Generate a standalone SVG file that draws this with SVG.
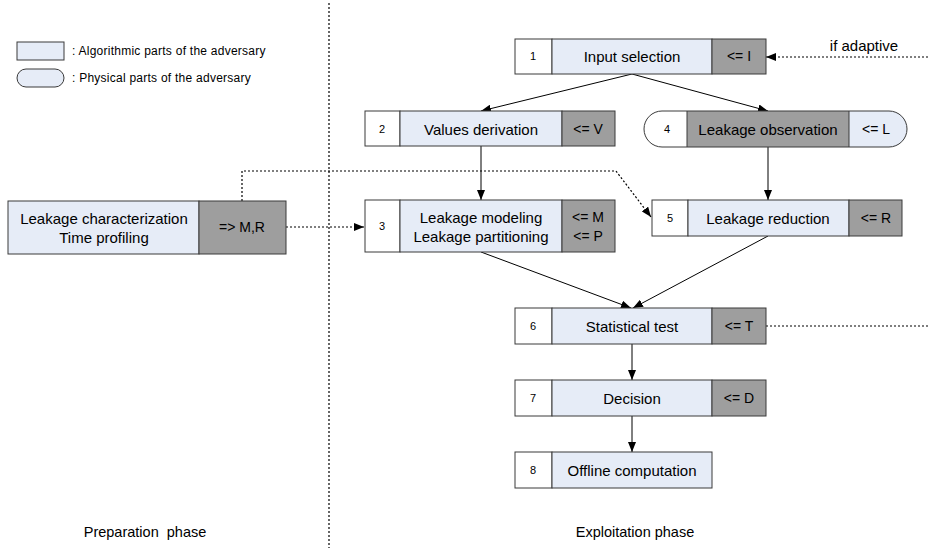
<svg xmlns="http://www.w3.org/2000/svg" width="930" height="548" viewBox="0 0 930 548">
<style>
text{font-family:"Liberation Sans",Arial,sans-serif;fill:#000;text-anchor:middle;dominant-baseline:central}
.b{stroke:#3a3a3a;stroke-width:1}
.w{fill:#ffffff}
.l{fill:#e6ecf7}
.d{fill:#9e9e9e}
.t{font-size:15px}
.n{font-size:11px}
.s{font-size:14px}
.g{font-size:12px;text-anchor:start;letter-spacing:0.25px}
.p{font-size:14.5px;white-space:pre}
.c{fill:none;stroke:#000;stroke-width:1}
.dot{fill:none;stroke:#000;stroke-width:1.2;stroke-dasharray:2,2}
</style>
<defs>
<marker id="ah" markerWidth="10" markerHeight="8" refX="10" refY="4" orient="auto" markerUnits="userSpaceOnUse">
<path d="M0,0 L10,4 L0,8 z" fill="#000"/>
</marker>
<clipPath id="stad"><rect x="644" y="111" width="263" height="36" rx="18" ry="18"/></clipPath>
</defs>

<g id="legend">
<rect class="l b" x="17" y="42" width="47" height="18"/>
<text class="g" x="72" y="51">: Algorithmic parts of the adversary</text>
<rect class="l b" x="17" y="69" width="47" height="18" rx="9" ry="9"/>
<text class="g" x="72" y="78">: Physical parts of the adversary</text>
</g>

<g id="connectors">
<path class="dot" d="M329,3 L329,548"/>
<path class="c" d="M632,74 L481,111" marker-end="url(#ah)"/>
<path class="c" d="M632,74 L768,111" marker-end="url(#ah)"/>
<path class="c" d="M481,146 L481,200" marker-end="url(#ah)"/>
<path class="c" d="M768,147 L768,200" marker-end="url(#ah)"/>
<path class="c" d="M481,252 L631,308" marker-end="url(#ah)"/>
<path class="c" d="M768,236 L633,308" marker-end="url(#ah)"/>
<path class="c" d="M632,344 L632,380" marker-end="url(#ah)"/>
<path class="c" d="M632,416 L632,452" marker-end="url(#ah)"/>
<path class="dot" d="M928,57 L766,57" marker-end="url(#ah)"/>
<path class="dot" d="M286,227 L364,227" marker-end="url(#ah)"/>
<path class="dot" d="M242,201 L242,171 L616,171 L651,217" marker-end="url(#ah)"/>
<path class="dot" d="M766,326 L928,326"/>
</g>

<g id="node-prep">
<rect class="l b" x="8" y="201" width="191" height="53"/>
<rect class="d b" x="199" y="201" width="87" height="53"/>
<text class="t" x="104" y="218">Leakage characterization</text>
<text class="t" x="104" y="237">Time profiling</text>
<text class="s" x="242" y="227">=&gt; M,R</text>
</g>

<g id="node1">
<rect class="w b" x="515" y="39" width="37" height="35"/>
<rect class="l b" x="552" y="39" width="160" height="35"/>
<rect class="d b" x="712" y="39" width="54" height="35"/>
<text class="n" x="533" y="56">1</text>
<text class="t" x="632" y="56">Input selection</text>
<text class="s" x="739" y="56">&lt;= I</text>
</g>
<text id="adaptive" class="t" x="864" y="45">if adaptive</text>

<g id="node2">
<rect class="w b" x="365" y="111" width="35" height="35"/>
<rect class="l b" x="400" y="111" width="162" height="35"/>
<rect class="d b" x="562" y="111" width="53" height="35"/>
<text class="n" x="382" y="129">2</text>
<text class="t" x="481" y="129">Values derivation</text>
<text class="s" x="588" y="129">&lt;= V</text>
</g>

<g id="node4">
<g clip-path="url(#stad)">
<rect class="w" x="644" y="111" width="43" height="36"/>
<rect class="d" x="687" y="111" width="162" height="36"/>
<rect class="l" x="849" y="111" width="58" height="36"/>
</g>
<rect x="644" y="111" width="263" height="36" rx="18" ry="18" fill="none" class="b"/>
<path class="b" d="M687,111 V147 M849,111 V147"/>
<text class="n" x="667" y="129">4</text>
<text class="t" x="768" y="129">Leakage observation</text>
<text class="s" x="876" y="129">&lt;= L</text>
</g>

<g id="node3">
<rect class="w b" x="365" y="200" width="35" height="52"/>
<rect class="l b" x="400" y="200" width="162" height="52"/>
<rect class="d b" x="562" y="200" width="53" height="52"/>
<text class="n" x="382" y="226">3</text>
<text class="t" x="481" y="217">Leakage modeling</text>
<text class="t" x="481" y="236">Leakage partitioning</text>
<text class="s" x="588" y="217">&lt;= M</text>
<text class="s" x="588" y="236">&lt;= P</text>
</g>

<g id="node5">
<rect class="w b" x="652" y="200" width="36" height="36"/>
<rect class="l b" x="688" y="200" width="161" height="36"/>
<rect class="d b" x="849" y="200" width="53" height="36"/>
<text class="n" x="670" y="218">5</text>
<text class="t" x="768" y="218">Leakage reduction</text>
<text class="s" x="876" y="218">&lt;= R</text>
</g>

<g id="node6">
<rect class="w b" x="515" y="308" width="37" height="36"/>
<rect class="l b" x="552" y="308" width="160" height="36"/>
<rect class="d b" x="712" y="308" width="54" height="36"/>
<text class="n" x="533" y="326">6</text>
<text class="t" x="632" y="326">Statistical test</text>
<text class="s" x="739" y="326">&lt;= T</text>
</g>

<g id="node7">
<rect class="w b" x="515" y="380" width="37" height="36"/>
<rect class="l b" x="552" y="380" width="160" height="36"/>
<rect class="d b" x="712" y="380" width="54" height="36"/>
<text class="n" x="533" y="398">7</text>
<text class="t" x="632" y="398">Decision</text>
<text class="s" x="739" y="398">&lt;= D</text>
</g>

<g id="node8">
<rect class="w b" x="515" y="452" width="37" height="36"/>
<rect class="l b" x="552" y="452" width="160" height="36"/>
<text class="n" x="533" y="470">8</text>
<text class="t" x="632" y="470">Offline computation</text>
</g>

<g id="phases">
<text class="p" x="145" y="532">Preparation  phase</text>
<text class="p" x="635" y="532">Exploitation phase</text>
</g>
</svg>
